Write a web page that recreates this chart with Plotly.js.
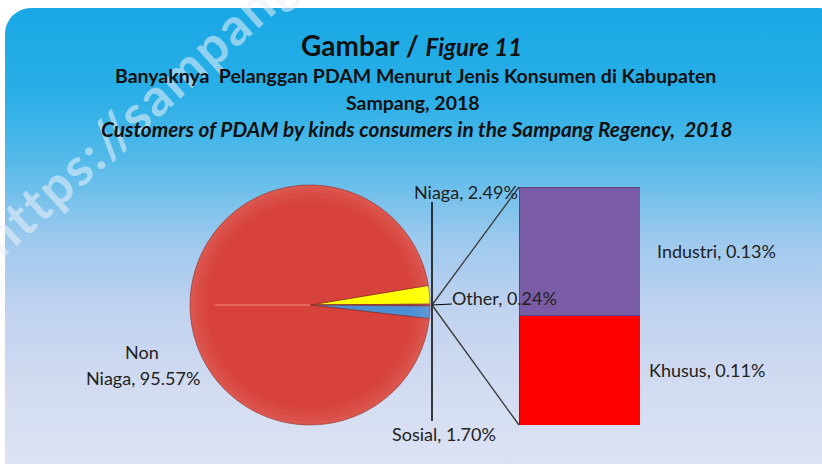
<!DOCTYPE html>
<html><head><meta charset="utf-8">
<script src="https://cdn.plot.ly/plotly-3.0.1.min.js"></script>
<style>
body{margin:0;background:#fff;}
#wrap{position:relative;width:822px;height:464px;overflow:hidden;}
#bg{position:absolute;left:5px;top:8px;width:840px;height:480px;border-radius:26px 26px 0 0;
background:linear-gradient(to bottom,#19a8e5 0%,#2aafe7 18%,#55bae9 32%,#9cc9ee 48%,#bfd2ef 62%,#d3dcf1 80%,#dfe4f2 100%);}
#chart{position:absolute;left:0;top:0;width:822px;height:464px;}
</style></head><body>
<div id="wrap"><div id="bg"></div><div id="chart"></div></div>
<script>
// ---- data ----
const pieLabels = ['Niaga', 'Other', 'Sosial', 'Non Niaga'];
const pieValues = [2.49, 0.24, 1.70, 95.57];
const pieColors = ['#ffff00', '#b04050', '#4a8fd4', '#d7423a'];
const barLabels = ['Khusus', 'Industri'];
const barValues = [0.11, 0.13];
const barColors = ['#ff0000', '#7a5ca6'];
const titleMain = 'Gambar / ';
const titleFig = 'Figure 11';
const subtitle1 = 'Banyaknya  Pelanggan PDAM Menurut Jenis Konsumen di Kabupaten';
const subtitle2 = 'Sampang, 2018';
const subtitle3 = 'Customers of PDAM by kinds consumers in the Sampang Regency,  2018';
const watermark = 'https://sampang';

// ---- layout geometry (pixels) ----
const W = 822, H = 464;
const px = x => x / W, py = y => 1 - y / H;
const pieCx = 310, pieCy = 305, pieR = 120;
const barL = 519, barR = 640, barT = 187, barB = 425;

const total = pieValues.reduce((a, b) => a + b, 0);
const rot = 90 - (pieValues[0] + pieValues[1] / 2) / total * 360;

const font = 'Lato, "Open Sans", sans-serif';
const fmt = v => v.toFixed(2) + '%';
const pieDomain = { x: [px(pieCx - pieR), px(pieCx + pieR)], y: [py(pieCy + pieR), py(pieCy - pieR)] };

const pie = {
  type: 'pie', labels: pieLabels, values: pieValues, sort: false,
  direction: 'clockwise', rotation: rot,
  marker: { colors: pieColors, line: { color: 'rgba(130,35,28,0.55)', width: 1 } },
  textinfo: 'none', hoverinfo: 'label+percent', showlegend: false,
  domain: pieDomain
};
// soft bevel rings drawn from the same values
const rings = [0.86, 0.9, 0.94, 0.97].map(h => ({
  type: 'pie', labels: pieLabels, values: pieValues, sort: false,
  direction: 'clockwise', rotation: rot, hole: h,
  marker: { colors: pieValues.map(() => 'rgba(255,235,230,0.035)'), line: { width: 0 } },
  textinfo: 'none', hoverinfo: 'skip', showlegend: false, domain: pieDomain
}));
const bars = barLabels.map((name, i) => ({
  type: 'bar', name: name, x: ['Other'], y: [barValues[i]],
  marker: { color: barColors[i], line: { color: i === 0 ? '#c80000' : '#5a4282', width: 1 } },
  xaxis: 'x', yaxis: 'y', showlegend: false, hoverinfo: 'name+y'
}));
const barTotal = barValues.reduce((a, b) => a + b, 0);

const anns = [];
const P = (x, y, text, f, xa, ya, extra) => Object.assign({ xref: 'paper', yref: 'paper', x: px(x), y: py(y),
  text: text, font: f, showarrow: false, xanchor: xa || 'center', yanchor: ya || 'middle' }, extra || {});
const tf = s => ({ family: font, size: s, color: '#111' });
// watermark
anns.push(P(138, 110, '<b><span style="letter-spacing:2px">' + watermark + '</span></b>',
  { family: font, size: 52, color: 'rgba(235,240,250,0.55)' }, 'center', 'middle', { textangle: -42 }));
// titles
anns.push(P(411, 45, '<b>' + titleMain + '</b><b><i><span style="font-size:24px">' + titleFig + '</span></i></b>', tf(28)));
anns.push(P(415, 75, '<b>' + subtitle1 + '</b>', tf(19.5)));
anns.push(P(413, 102, '<b>' + subtitle2 + '</b>', tf(19.5)));
anns.push(P(416, 128, '<b><i>' + subtitle3 + '</i></b>', tf(20.8)));
// pie labels
const lf = { family: font, size: 18, color: '#222' };
anns.push(P(466, 192, pieLabels[0] + ', ' + fmt(pieValues[0]), lf));
anns.push(P(450, 298, pieLabels[1] + ', ' + fmt(pieValues[1]), lf, 'left'));
anns.push(P(444, 434, pieLabels[2] + ', ' + fmt(pieValues[2]), lf));
const nn = pieLabels[3].split(' ');
anns.push(P(142, 352, nn[0], lf));
anns.push(P(143, 378, nn[1] + ', ' + fmt(pieValues[3]), lf));
// bar labels
let cum = 0;
const barLabelX = [647, 655];
barValues.forEach((v, i) => {
  anns.push({ xref: 'paper', yref: 'y', x: px(barLabelX[i]), y: cum + v / 2, xanchor: 'left', yanchor: 'middle',
    showarrow: false, text: barLabels[i] + ', ' + fmt(v), font: lf });
  cum += v;
});

const tipX = pieCx + pieR + 2;
const shapes = [
  { type: 'line', xref: 'paper', yref: 'paper', x0: px(432), x1: px(432), y0: py(202), y1: py(421), line: { color: '#000', width: 1.5 } },
  { type: 'line', xref: 'paper', yref: 'paper', x0: px(tipX), y0: py(pieCy), x1: px(barL), y1: py(barT), line: { color: '#3a3a3a', width: 1.3 } },
  { type: 'line', xref: 'paper', yref: 'paper', x0: px(tipX), y0: py(pieCy), x1: px(barL), y1: py(barB), line: { color: '#3a3a3a', width: 1.3 } },
  { type: 'line', xref: 'paper', yref: 'paper', x0: px(tipX), y0: py(pieCy), x1: px(452), y1: py(304), line: { color: '#000', width: 1.2 } },
  { type: 'line', xref: 'paper', yref: 'paper', x0: px(215), y0: py(pieCy), x1: px(pieCx), y1: py(pieCy), line: { color: 'rgba(255,160,150,0.55)', width: 1.5 } }
];

const layout = {
  width: W, height: H, margin: { l: 0, r: 0, t: 0, b: 0 },
  paper_bgcolor: 'rgba(0,0,0,0)', plot_bgcolor: 'rgba(0,0,0,0)',
  barmode: 'stack', bargap: 0,
  xaxis: { domain: [px(barL), px(barR)], visible: false, fixedrange: true },
  yaxis: { domain: [py(barB), py(barT)], range: [0, barTotal], visible: false, fixedrange: true },
  annotations: anns, shapes: shapes, showlegend: false
};
Plotly.newPlot('chart', [pie].concat(rings, bars), layout, { displayModeBar: false, staticPlot: true });
</script>
</body></html>
